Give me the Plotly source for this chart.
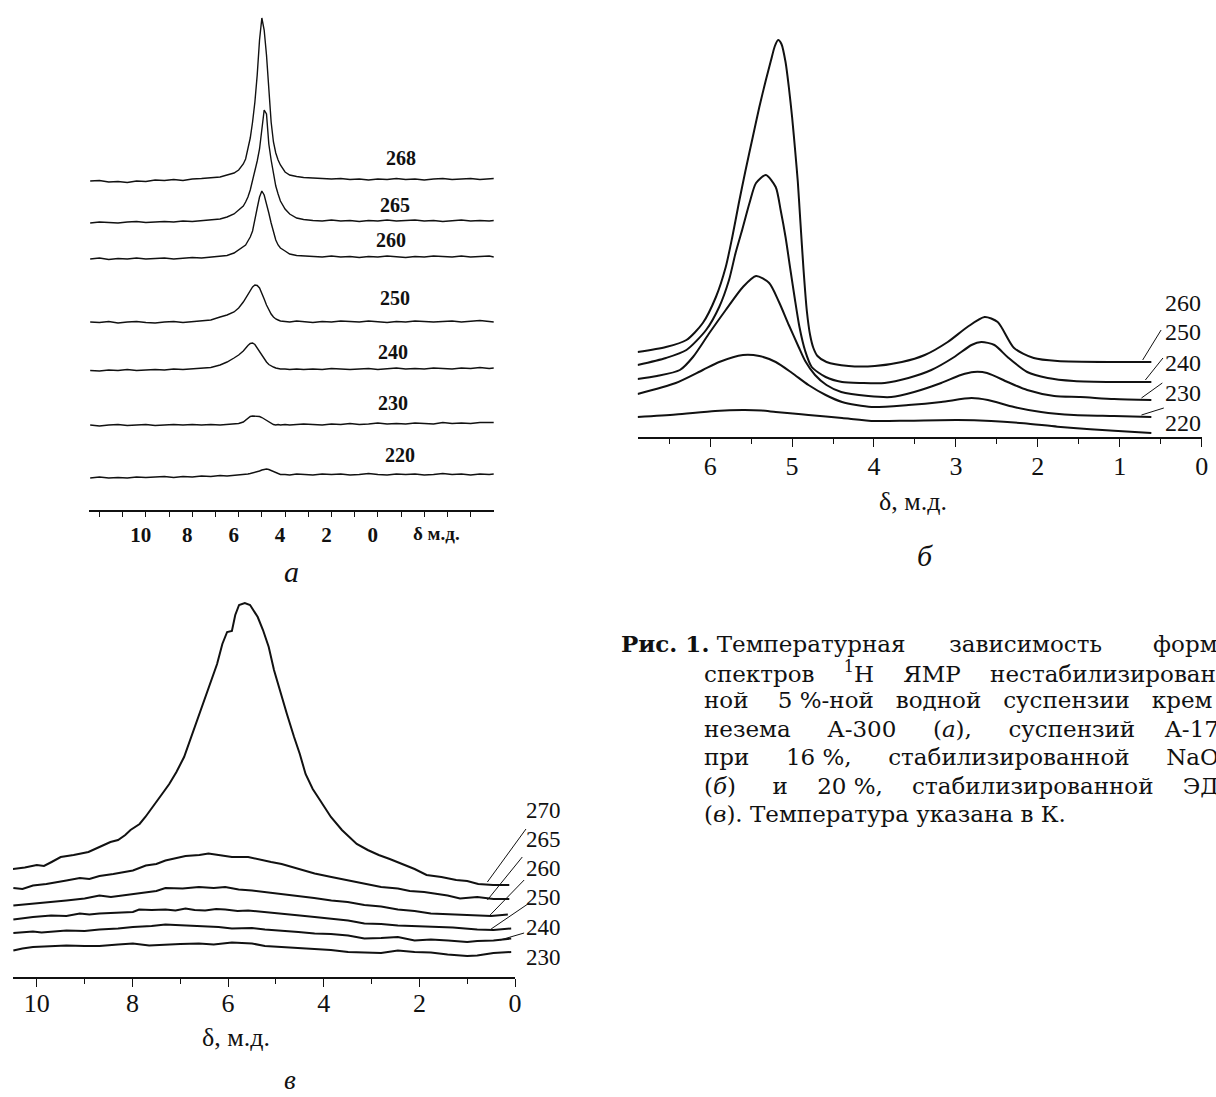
import plotly.graph_objects as go

W, H = 1216, 1097

# ---------------- panel а: A-300 suspension, bold-labelled stack ----------------
A_PPM = [12.4, 12.0, 11.6, 11.2, 10.8, 10.4, 10.0, 9.6, 9.2, 8.8, 8.4, 8.0, 7.6, 7.2,
         6.8, 6.5, 6.2, 6.0, 5.8, 5.7, 5.6, 5.5, 5.4, 5.3, 5.2, 5.1, 5.0, 4.9, 4.8, 4.7,
         4.6, 4.5, 4.4, 4.3, 4.2, 4.0, 3.8, 3.5, 3.2, 2.8, 2.4, 2.0, 1.6, 1.2, 0.8, 0.4,
         0.0, -0.4, -0.8, -1.2, -1.6, -2.0, -2.4, -2.8, -3.2, -3.6, -4.0, -4.4, -4.8, -5.0]
A_TEMPS = ["268", "265", "260", "250", "240", "230", "220"]
A_OFFSETS = [330, 288, 252, 188, 140, 85, 33]
A_268 = [-1, -0.5, -2, -1.5, -2.5, -1, -1.5, 0, -0.5, 0.5, -0.5, 1, 1.5, 2,
         3, 5, 7, 10, 16, 21, 30, 42, 58, 78, 105, 140, 162, 150, 125, 88, 58, 38, 27, 20, 15,
         8, 5, 3.5, 2.5, 2, 1.5, 1, 1.5, 0.5, 1, 0, 1, 0.5, 1.5, 0.5, 1, 0, 1, 1.5, 0.5, 1, 1.5, 0.5, 1, 1.5]
A_265 = [-1, 0, -0.5, -1, 0, 0.5, -0.5, 0, 0.5, 0, 1, 0.5, 1.5, 2,
         3, 5, 8, 12, 16, 20, 25, 32, 41, 50, 61, 73, 95, 112, 108, 78, 62, 47, 36, 28, 21,
         13, 8, 4, 2.5, 1.5, 1, 2, 1, 1.5, 0.5, 1.5, 1, 2, 1, 1.5, 2, 1, 1.5, 0.5, 1, 2, 1, 1.5, 1, 1.5]
A_260 = [-1, 0, -1.5, -0.5, -1, 0, -1, -0.5, 0, -1, 0, 0.5, 0, 1,
         1.5, 2.5, 5, 8, 11, 13, 17, 21, 27, 37, 50, 61, 67, 63, 55, 45, 35, 25, 18, 13, 10,
         7, 4, 2.5, 2, 1.5, 1, 2, 1, 1.5, 0.5, 1.5, 1, 2, 1, 0.5, 1.5, 1, 2, 1.5, 1, 2, 1, 1.5, 2, 1]
A_250 = [0, -0.5, 0.5, -1, 0, 0.5, -0.5, -1, 0, 0.5, -0.5, 0.5, 1, 2,
         5, 7, 10, 14, 20, 24, 28, 32, 35, 37, 36.5, 34, 29, 23, 17, 12, 8, 5, 3, 2, 1,
         0.5, 0, 1, 0.5, -0.5, 0.5, 0, 1, 0.5, 0, 1, 0.5, -0.5, 0.5, 0, 1, 0.5, 0, 0.5, 1, 0, 0.5, 1.5, 0.5, 0]
A_240 = [-0.5, -1, 0, -0.5, 0.5, -0.5, 0, 0.5, 0, 1, 0.5, 1, 1.5, 2.5,
         5, 8, 12, 15, 19, 22, 24.5, 26.5, 27, 25.5, 22, 18, 14, 10.5, 8, 5.5, 4, 3, 2, 1.5, 1,
         1, 0.5, 1, 0.5, 1, 0.5, 1.5, 1, 0.5, 1, 1.5, 0.5, 1, 2, 1, 1.5, 1, 2, 1.5, 1, 2, 1.5, 2.5, 1.5, 2]
A_230 = [0, -1, 0, 0.5, -0.5, 0, 0.5, -0.5, 0, 0.5, 0, 0.5, 0, 0.5,
         0, 0.5, 0.5, 1.5, 3, 5, 7, 8.5, 9, 9, 9, 8.5, 7.5, 6, 4.5, 3, 1.5, 0.5, 0, 0.5, 0,
         0.5, 0, 0.5, 1, 0.5, 0, 1, 0.5, 1.5, 0.5, 1, 2, 1, 1.5, 1, 2, 1.5, 1, 2.5, 1.5, 2, 1.5, 2.5, 2, 2.5]
A_220 = [-1, 0, -1, -0.5, -1, 0, -0.5, 0, 0.5, -0.5, 0.5, 0, 1, 0.5,
         1.5, 1, 1.5, 2, 2.5, 2.5, 3, 3.5, 4, 4.5, 5.5, 6, 7, 7.5, 8, 7.5, 6.5, 5, 4, 3, 2.5,
         2.5, 2, 3, 2.5, 2, 3, 2.5, 3, 2, 2.5, 3.5, 2.5, 2, 3, 2.5, 3, 2, 2.5, 3.5, 2.5, 3, 2, 3, 2.5, 3]
A_SERIES = [A_268, A_265, A_260, A_250, A_240, A_230, A_220]
A_TICKS = [10, 8, 6, 4, 2, 0]

# ---------------- panel б: A-175, NaOH-stabilised ----------------
B_TEMPS = ["260", "250", "240", "230", "220"]
B260_PPM = [6.886, 6.54, 6.29, 6.09, 5.93, 5.81, 5.73, 5.65, 5.57, 5.48, 5.40, 5.32, 5.26, 5.21,
            5.17, 5.13, 5.08, 5.04, 5.00, 4.96, 4.93, 4.90, 4.86, 4.82, 4.78, 4.74, 4.69, 4.58,
            4.31, 3.99, 3.66, 3.38, 3.10, 2.86, 2.65, 2.49, 2.29, 2.05, 1.76, 1.07, 0.614]
B260_I = [85, 90, 97, 114, 140, 170, 200, 234, 266, 300, 330, 357, 376, 391,
          397, 393, 375, 350, 320, 284, 255, 217, 167, 126, 102, 89, 81, 75,
          71, 71, 75, 82, 95, 110, 120, 115, 89, 79, 76, 75, 75]
B250_PPM = [6.886, 6.54, 6.29, 6.05, 5.89, 5.77, 5.69, 5.61, 5.52, 5.44, 5.32, 5.20, 5.14, 5.08,
            5.02, 4.97, 4.91, 4.84, 4.76, 4.59, 4.39, 4.15, 3.87, 3.58, 3.30, 3.02, 2.81, 2.69,
            2.53, 2.37, 2.13, 1.88, 1.56, 1.07, 0.614]
B250_I = [72, 79, 87, 107, 130, 157, 184, 207, 234, 254, 262, 250, 227, 200,
          167, 140, 110, 86, 70, 60, 55, 54, 54, 59, 67, 80, 92, 95,
          92, 80, 65, 59, 56, 55, 55]
B240_PPM = [6.886, 6.65, 6.37, 6.21, 6.01, 5.81, 5.60, 5.44, 5.28, 5.16, 5.04, 4.92, 4.84, 4.72,
            4.58, 4.40, 4.07, 3.79, 3.51, 3.18, 2.94, 2.78, 2.62, 2.37, 2.13, 1.80, 1.48, 1.07, 0.614]
B240_I = [58, 61, 67, 80, 104, 127, 150, 161, 154, 135, 112, 90, 76, 62,
          52, 45, 41, 40, 45, 54, 62, 65, 64, 55, 47, 41, 40, 38, 37]
B230_PPM = [6.886, 6.42, 6.09, 5.89, 5.60, 5.40, 5.20, 5.00, 4.80, 4.59, 4.39, 4.03, 3.58, 3.18,
            2.81, 2.61, 2.29, 1.96, 1.56, 1.07, 0.614]
B230_I = [43, 54, 67, 75, 82, 81, 75, 64, 52, 42, 35, 30, 32, 35, 39, 37, 30, 25, 22, 21, 20]
B220_PPM = [6.886, 6.42, 5.94, 5.60, 5.37, 5.20, 4.99, 4.80, 4.39, 3.99, 3.58, 2.98, 2.57, 2.17,
            1.76, 1.36, 1.07, 0.614]
B220_I = [20, 22.5, 26, 27, 26.5, 25, 23.5, 22, 19, 16, 16.3, 17, 16, 13.7, 10.3, 7.7, 6.3, 4]
B_SERIES = [(B260_PPM, B260_I), (B250_PPM, B250_I), (B240_PPM, B240_I),
            (B230_PPM, B230_I), (B220_PPM, B220_I)]

# ---------------- panel в: 20 % suspension, EDA-stabilised ----------------
V_TEMPS = ["270", "265", "260", "250", "240", "230"]
V270_PPM = [10.50, 10.25, 10.0, 9.85, 9.69, 9.5, 9.23, 8.92, 8.69, 8.46, 8.3, 8.15, 8.04, 7.85,
            7.73, 7.62, 7.46, 7.35, 7.23, 7.08, 6.92, 6.77, 6.62, 6.5, 6.38, 6.23, 6.12, 6.02,
            5.92, 5.85, 5.77, 5.65, 5.54, 5.38, 5.27, 5.15, 5.04, 4.92, 4.77, 4.62, 4.5, 4.38,
            4.23, 4.08, 3.85, 3.62, 3.31, 3.08, 2.85, 2.62, 2.31, 2.1, 1.85, 1.54, 1.23, 1.0,
            0.77, 0.46, 0.12]
V270_I = [108, 109.5, 112, 111, 115, 120, 122, 125, 130, 135, 137, 142, 147, 153,
          160, 167, 177, 185, 193, 205, 220, 240, 260, 277, 293, 313, 333, 345,
          346, 362, 372, 374, 372, 360, 347, 330, 307, 287, 263, 240, 223, 203,
          188, 177, 160, 147, 133, 127, 122, 118, 112, 108, 102, 100, 97, 96,
          93, 92, 92]
V265_PPM = [10.49, 10.3, 10.08, 9.8, 9.38, 9.1, 8.9, 8.69, 8.4, 7.99, 7.72, 7.5, 7.31, 6.89,
            6.6, 6.41, 6.2, 5.92, 5.58, 5.36, 5.1, 4.88, 4.53, 4.19, 3.84, 3.49, 3.15, 2.8,
            2.45, 2.2, 1.9, 1.41, 1.15, 0.79, 0.45, 0.12]
V265_I = [89, 88, 91.5, 93, 96.5, 99, 98, 101, 103, 106.5, 111.5, 113, 116.5, 121,
          122, 123.5, 122, 120, 120, 117.5, 115, 113, 108.5, 103.5, 100, 96.5, 93.5, 90,
          88.5, 86, 85, 81.5, 78.5, 80, 78, 78]
V260_PPM = [10.49, 10.25, 10.08, 9.7, 9.38, 9.0, 8.69, 8.45, 8.2, 7.95, 7.72, 7.5, 7.31, 6.95,
            6.61, 6.3, 6.06, 5.78, 5.5, 5.23, 4.9, 4.53, 4.2, 3.84, 3.5, 3.15, 2.8, 2.45,
            2.1, 1.76, 1.3, 0.79, 0.5, 0.15]
V260_I = [71.5, 72.5, 73.5, 75, 76.5, 78.5, 81.5, 80, 81.5, 83.5, 85, 86, 89, 88.5,
          90, 89, 90, 87.5, 86.5, 85, 83.5, 81.5, 79, 76.5, 75, 72, 70.5, 67.5,
          66, 63.5, 62.5, 61.5, 61, 62.5]
V250_PPM = [10.49, 10.25, 10.08, 9.7, 9.38, 9.1, 8.9, 8.69, 8.3, 7.99, 7.86, 7.6, 7.31, 7.1,
            6.89, 6.7, 6.48, 6.25, 6.06, 5.8, 5.58, 5.2, 4.88, 4.5, 4.19, 3.85, 3.49, 3.15,
            2.8, 2.45, 2.1, 1.76, 1.3, 0.79, 0.45, 0.08]
V250_I = [57.5, 59, 60, 61.5, 61, 63.5, 62.5, 63.5, 64.5, 65, 67.5, 67, 67.5, 66.5,
          68.5, 67, 66.5, 68, 67.5, 66, 66.5, 65, 63.5, 61.5, 60, 58.5, 56.5, 53.5,
          53, 51.5, 51, 50, 49.5, 47.5, 47, 48.5]
V240_PPM = [10.49, 10.3, 10.08, 9.9, 9.73, 9.38, 9.0, 8.69, 8.3, 7.99, 7.6, 7.31, 7.1, 6.89,
            6.48, 6.2, 5.92, 5.5, 5.23, 4.9, 4.53, 4.19, 3.85, 3.49, 3.15, 2.8, 2.45, 2.1,
            1.76, 1.4, 1.0, 0.79, 0.45, 0.08]
V240_I = [44, 45, 45.5, 44.5, 45, 46.5, 46, 47.5, 48.5, 50, 51, 52.5, 52, 51.5,
          51, 50, 48.5, 49, 47.5, 46.5, 45, 43.5, 43, 41.5, 38.5, 39, 40, 36.5,
          37.5, 36.5, 35, 36, 36.5, 38.5]
V230_PPM = [10.49, 10.3, 10.08, 9.7, 9.38, 9.0, 8.69, 8.3, 7.99, 7.65, 7.31, 7.0, 6.61, 6.3,
            5.92, 5.5, 5.23, 4.9, 4.53, 4.19, 3.85, 3.49, 3.15, 2.8, 2.45, 2.1, 1.76, 1.41,
            1.0, 0.79, 0.45, 0.08]
V230_I = [26.5, 28.5, 30, 31, 31.5, 31, 31, 32.5, 33.5, 31.5, 32.5, 33, 33.5, 32.5,
          34.5, 33.5, 31, 30, 29, 28.5, 27, 25, 24.5, 24, 26.5, 25, 24.5, 22.5,
          21, 21.5, 24, 25]
V_SERIES = [(V270_PPM, V270_I), (V265_PPM, V265_I), (V260_PPM, V260_I),
            (V250_PPM, V250_I), (V240_PPM, V240_I), (V230_PPM, V230_I)]


def gap(n):
    # justified-paragraph word spacing
    return "\u00a0" * n


CAPTION = [
    "<b>Рис. 1.</b> Температурная" + gap(6) + "зависимость" + gap(7) + "форм",
    "спектров" + gap(4) + "<sup>1</sup>H" + gap(4) + "ЯМР" + gap(4) + "нестабилизирован",
    "ной" + gap(4) + "5\u00a0%-ной" + gap(3) + "водной" + gap(3) + "суспензии" + gap(3) + "крем",
    "незема" + gap(5) + "А-300" + gap(5) + "(<i>а</i>)," + gap(5) + "суспензий" + gap(4) + "А-17",
    "при" + gap(5) + "16\u00a0%," + gap(5) + "стабилизированной" + gap(5) + "NaO",
    "(<i>б</i>)" + gap(5) + "и" + gap(4) + "20\u00a0%," + gap(4) + "стабилизированной" + gap(4) + "ЭД",
    "(<i>в</i>). Температура указана в К.",
]

SERIF = "Liberation Serif, Times New Roman, serif"
CAP_FONT = "DejaVu Serif, Liberation Serif, serif"
INK = "#111111"

# subplot geometry (paper fractions) and axis ranges
DOM = {
    "a": dict(x=[90 / W, 496.7 / W], y=[1 - 510 / H, 1 - 5 / H], xr=[12.43, -5.0], yr=[0, 505]),
    "b": dict(x=[641.3 / W, 1208.6 / W], y=[1 - 437 / H, 1 - 30 / H], xr=[6.886, 0], yr=[0, 407]),
    "v": dict(x=[12.95 / W, 518 / W], y=[1 - 977 / H, 1 - 595 / H], xr=[10.5, 0], yr=[0, 382]),
}


def to_paper(key, xv, yv):
    d = DOM[key]
    fx = (xv - d["xr"][0]) / (d["xr"][1] - d["xr"][0])
    fy = (yv - d["yr"][0]) / (d["yr"][1] - d["yr"][0])
    return (d["x"][0] + fx * (d["x"][1] - d["x"][0]),
            d["y"][0] + fy * (d["y"][1] - d["y"][0]))


def pp(xpx, ypx):
    return xpx / W, 1 - ypx / H


fig = go.Figure()

for vals, off in zip(A_SERIES, A_OFFSETS):
    fig.add_trace(go.Scatter(x=A_PPM, y=[off + v for v in vals], mode="lines",
                             line=dict(color=INK, width=1.4), xaxis="x", yaxis="y",
                             hoverinfo="skip"))

for xs, ys in B_SERIES:
    fig.add_trace(go.Scatter(x=xs, y=ys, mode="lines",
                             line=dict(color=INK, width=2, shape="spline", smoothing=0.7),
                             xaxis="x2", yaxis="y2", hoverinfo="skip"))

for xs, ys in V_SERIES:
    fig.add_trace(go.Scatter(x=xs, y=ys, mode="lines",
                             line=dict(color=INK, width=2), xaxis="x3", yaxis="y3",
                             hoverinfo="skip"))

axis_common = dict(showgrid=False, zeroline=False, showline=True, linecolor=INK,
                   linewidth=1.5, ticks="outside", tickcolor=INK, tickwidth=1.3,
                   fixedrange=True)
yaxis_hidden = dict(visible=False, fixedrange=True)

fig.update_layout(
    width=W, height=H, margin=dict(l=0, r=0, t=0, b=0),
    paper_bgcolor="white", plot_bgcolor="white", showlegend=False,
    xaxis=dict(axis_common, domain=DOM["a"]["x"], range=DOM["a"]["xr"], anchor="y",
               tickmode="array", tickvals=A_TICKS, ticktext=[str(t) for t in A_TICKS],
               ticklen=5, ticklabelshift=5, ticklabelstandoff=0,
               tickfont=dict(family=SERIF, size=21, color=INK, weight="bold"),
               minor=dict(tickvals=list(range(-4, 13)), ticks="outside", ticklen=5,
                          tickwidth=1.3, tickcolor=INK, showgrid=False)),
    yaxis=dict(yaxis_hidden, domain=DOM["a"]["y"], range=DOM["a"]["yr"], anchor="x"),
    xaxis2=dict(axis_common, domain=DOM["b"]["x"], range=DOM["b"]["xr"], anchor="y2",
                dtick=1, tick0=0, ticklen=8, ticklabelstandoff=-3,
                tickfont=dict(family=SERIF, size=26, color=INK),
                minor=dict(dtick=0.5, ticks="outside", ticklen=5, tickwidth=1.3,
                           tickcolor=INK, showgrid=False)),
    yaxis2=dict(yaxis_hidden, domain=DOM["b"]["y"], range=DOM["b"]["yr"], anchor="x2"),
    xaxis3=dict(axis_common, domain=DOM["v"]["x"], range=DOM["v"]["xr"], anchor="y3",
                dtick=2, tick0=0, ticklen=8, ticklabelstandoff=-6,
                tickfont=dict(family=SERIF, size=26, color=INK),
                minor=dict(dtick=1, ticks="outside", ticklen=5, tickwidth=1.3,
                           tickcolor=INK, showgrid=False)),
    yaxis3=dict(yaxis_hidden, domain=DOM["v"]["y"], range=DOM["v"]["yr"], anchor="x3"),
)

ann = []


def text(xpx, ypx, s, size, bold=False, italic=False, anchor="center", vanchor="middle",
         family=SERIF):
    x, y = pp(xpx, ypx)
    ann.append(dict(x=x, y=y, xref="paper", yref="paper", text=s, showarrow=False,
                    xanchor=anchor, yanchor=vanchor,
                    font=dict(family=family, size=size, color=INK,
                              weight="bold" if bold else "normal",
                              style="italic" if italic else "normal")))


# panel а temperature labels and captions
A_LABEL_PX = [(403, 158), (397, 205), (393, 240), (397, 298), (395, 352), (395, 403), (402, 455)]
for t, (lx, ly) in zip(A_TEMPS, A_LABEL_PX):
    text(lx, ly, t, 20, bold=True)
text(439, 533, "δ м.д.", 19, bold=True)
text(293, 571, "а", 30, italic=True)

# panel б labels and captions
B_LABEL_PX = [(1190, 303), (1190, 332), (1190, 363), (1190, 393), (1190, 423)]
for t, (lx, ly) in zip(B_TEMPS, B_LABEL_PX):
    text(lx, ly, t, 24)
text(918, 502, "δ, м.д.", 26)
text(930, 555, "б", 30, italic=True)

# panel в labels and captions
V_LABEL_PX = [(547, 810), (547, 839), (547, 868), (547, 897), (547, 927), (547, 957)]
for t, (lx, ly) in zip(V_TEMPS, V_LABEL_PX):
    text(lx, ly, t, 23)
text(237, 1037, "δ, м.д.", 26)
text(292, 1097, "в", 27, italic=True, vanchor="bottom")

# figure caption
CAP_X = [623, 706, 706, 706, 706, 706, 706]
CAP_Y = [643, 671.5, 700, 728.5, 757, 785.5, 814]
for s, cx, cy in zip(CAPTION, CAP_X, CAP_Y):
    text(cx, cy, s, 23, anchor="left", family=CAP_FONT)

# leader lines from temperature labels to curve ends
shapes = []
B_LEADERS = [((0.72, 77), (0.495, 107)), ((0.687, 57), (0.472, 79)),
             ((0.735, 39), (0.48, 54)), ((0.735, 22), (0.462, 29))]
V_LEADERS = [((0.578, 95), (-0.229, 148)), ((0.578, 77), (-0.152, 120)),
             ((0.54, 61), (-0.191, 97)), ((0.50, 48), (-0.268, 73)),
             ((0.31, 37), (-0.19, 44))]
for key, leaders in (("b", B_LEADERS), ("v", V_LEADERS)):
    for (x0, y0), (x1, y1) in leaders:
        p0 = to_paper(key, x0, y0)
        p1 = to_paper(key, x1, y1)
        shapes.append(dict(type="line", xref="paper", yref="paper",
                           x0=p0[0], y0=p0[1], x1=p1[0], y1=p1[1],
                           line=dict(color=INK, width=1)))

fig.update_layout(annotations=ann, shapes=shapes)
fig.write_html("out.html")
